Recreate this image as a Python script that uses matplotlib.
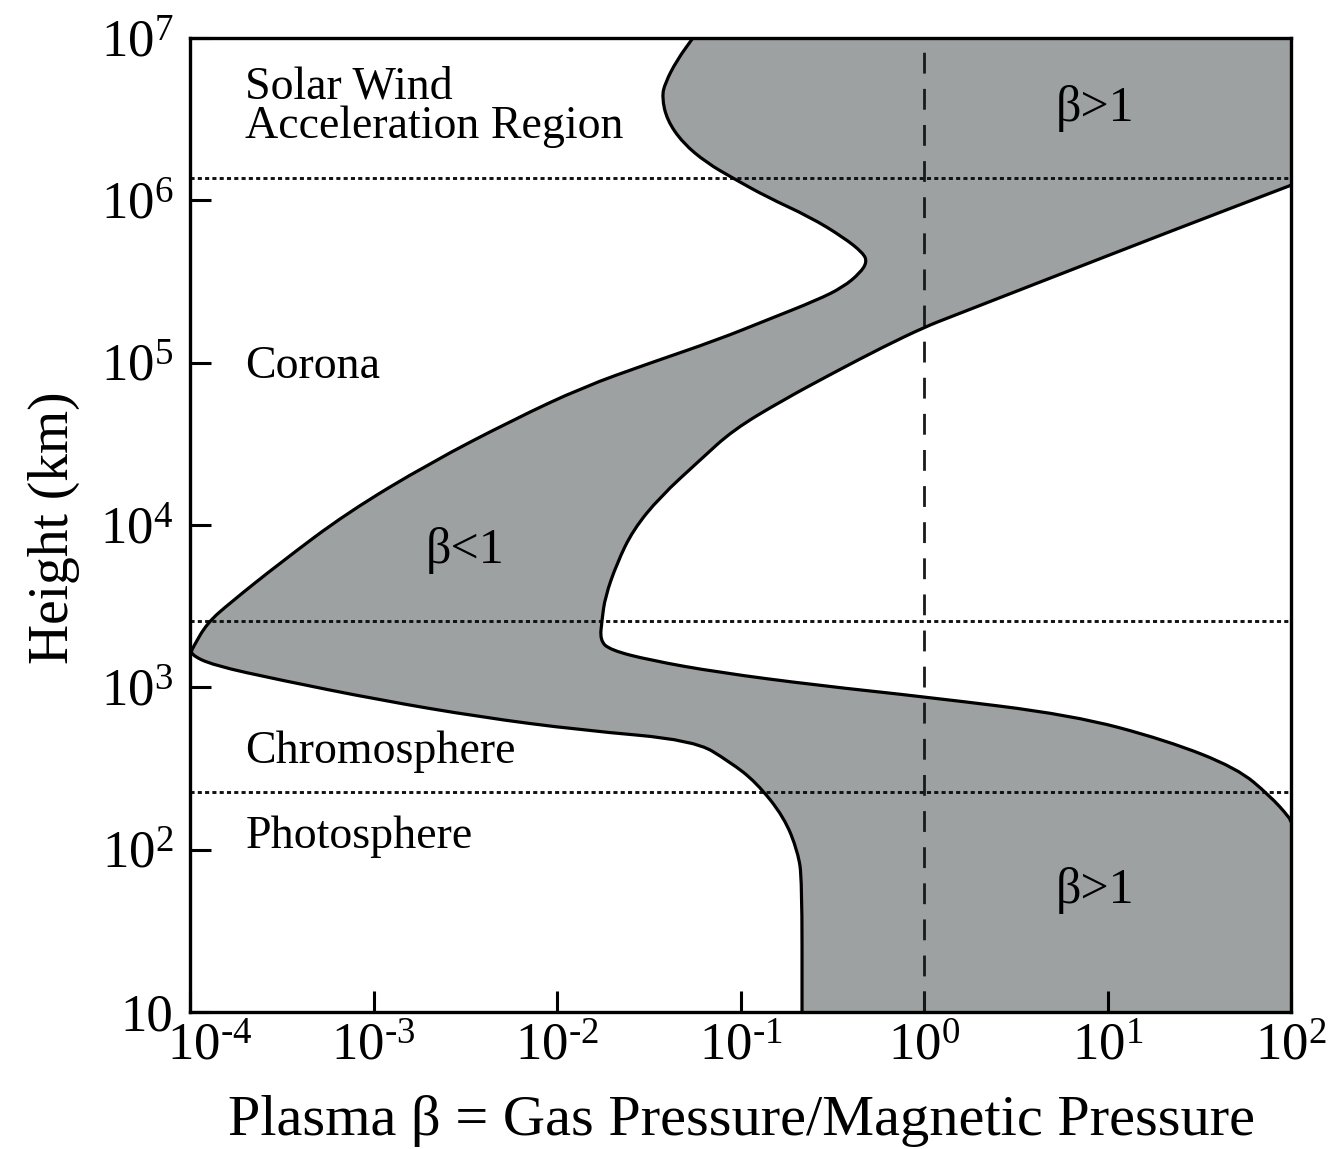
import matplotlib
matplotlib.use("Agg")
import numpy as np
import matplotlib.pyplot as plt
from matplotlib.path import Path
from matplotlib.patches import PathPatch
from matplotlib.transforms import ScaledTranslation

plt.rcParams['font.family'] = ['Liberation Serif', 'DejaVu Serif']
plt.rcParams['mathtext.fontset'] = 'custom'
plt.rcParams['mathtext.rm'] = 'Liberation Serif'
plt.rcParams['mathtext.it'] = 'Liberation Serif:italic'

# left boundary of the beta<1 band (beta, height km), top to bottom
left_beta = [0.055, 0.045, 0.0388, 0.0373, 0.0397, 0.0486, 0.0656, 0.091, 0.139,
             0.239, 0.362, 0.466, 0.489, 0.448, 0.362, 0.261, 0.139, 0.0745,
             0.0321, 0.01387, 0.00575, 0.00203, 7.18e-4, 3.09e-4, 1.65e-4,
             1.24e-4, 1.04e-4, 1.0e-4, 1.33e-4, 3.09e-4, 1.08e-3, 3.80e-3,
             0.01333, 0.0558, 0.0877, 0.1213, 0.1726, 0.2056, 0.2163, 0.2163]
left_h = [1e7, 7.3e6, 5.28e6, 4.33e6, 3.13e6, 2.25e6, 1.70e6, 1.37e6, 1.05e6,
          7.9e5, 5.94e5, 4.74e5, 4.17e5, 3.57e5, 2.92e5, 2.43e5, 1.83e5, 1.38e5,
          9.95e4, 7.08e4, 4.44e4, 2.41e4, 1.19e4, 5.83e3, 3.31e3,
          2.49e3, 1.77e3, 1.60e3, 1.37e3, 1.11e3, 836, 657,
          546, 473, 347, 261, 159, 96.8, 65, 10]

# right boundary, top to bottom
right_beta = [100, 20.8, 4.87, 1.387, 1.01, 0.598, 0.319, 0.1706, 0.091, 0.0601,
              0.0364, 0.02594, 0.02123, 0.01828, 0.01758, 0.01714, 0.01946,
              0.0321, 0.0745, 0.261, 1.04, 6.41, 20.8, 50.8, 76.9, 97.5, 100]
right_h = [1.24e6, 6.29e5, 3.32e5, 1.91e5, 1.66e5, 1.25e5, 8.63e4, 5.89e4, 3.85e4,
           2.51e4, 1.49e4, 9.31e3, 5.83e3, 3.60e3, 2.60e3, 1.95e3, 1.70e3,
           1.47e3, 1.24e3, 1.03e3, 871, 675, 473, 318, 214, 159, 148]

layer_heights = [1.37e6, 2.56e3, 226]

xticks = [1e-4, 1e-3, 1e-2, 1e-1, 1e0, 1e1, 1e2]
xlabels = ['$\\mathregular{10^{\u20104}}$', '$\\mathregular{10^{\u20103}}$',
           '$\\mathregular{10^{\u20102}}$', '$\\mathregular{10^{\u20101}}$',
           r'$\mathregular{10^{0}}$', r'$\mathregular{10^{1}}$', r'$\mathregular{10^{2}}$']
yticks = [10, 1e2, 1e3, 1e4, 1e5, 1e6, 1e7]
ylabels = ['10', r'$\mathregular{10^{2}}$', r'$\mathregular{10^{3}}$', r'$\mathregular{10^{4}}$',
           r'$\mathregular{10^{5}}$', r'$\mathregular{10^{6}}$', r'$\mathregular{10^{7}}$']


def smooth_verts(xs, ys):
    # quadratic bezier through midpoints (geometric, so it looks right on log axes)
    xs = np.asarray(xs, float)
    ys = np.asarray(ys, float)
    mx = np.sqrt(xs[:-1] * xs[1:])
    my = np.sqrt(ys[:-1] * ys[1:])
    verts = [(xs[0], ys[0]), (mx[0], my[0])]
    codes = [Path.MOVETO, Path.LINETO]
    for i in range(1, len(xs) - 1):
        verts += [(xs[i], ys[i]), (mx[i], my[i])]
        codes += [Path.CURVE3, Path.CURVE3]
    verts.append((xs[-1], ys[-1]))
    codes.append(Path.LINETO)
    return verts, codes


fig = plt.figure(figsize=(13.39, 11.49), dpi=100)
ax = fig.add_axes([0.1419, 0.1192, 0.8223, 0.8477])
ax.set_xscale('log')
ax.set_yscale('log')
xmin, xmax, ymin, ymax = 1e-4, 1e2, 10, 1e7
ax.set_xlim(xmin, xmax)
ax.set_ylim(ymin, ymax)

gray = '#9da1a2'
lv, lc = smooth_verts(left_beta, left_h)
rv, rc = smooth_verts(right_beta[::-1], right_h[::-1])

# shaded region
fv = lv + [(xmax, ymin)] + rv + [(xmax, ymax), (0, 0)]
fc = lc + [Path.LINETO] + [Path.LINETO] + rc[1:] + [Path.LINETO, Path.CLOSEPOLY]
ax.add_patch(PathPatch(Path(fv, fc), facecolor=gray, edgecolor='none', zorder=1))
ax.add_patch(PathPatch(Path(lv, lc), facecolor='none', edgecolor='black', lw=2.3, zorder=3))
ax.add_patch(PathPatch(Path(rv, rc), facecolor='none', edgecolor='black', lw=2.3, zorder=3))

for h in layer_heights:
    ax.axhline(h, color='#111111', lw=2.1, ls=(0, (1.4, 1.1)), zorder=2)
ax.axvline(1.0, color='#1a1a1a', lw=2.0, ls=(0, (7.5, 5.5)), zorder=2)

fs_lab = 33
ax.text(2.0e-4, 4.99e6, 'Solar Wind', fontsize=fs_lab, va='center', ha='left')
ax.text(2.0e-4, 2.83e6, 'Acceleration Region', fontsize=fs_lab, va='center', ha='left')
ax.text(2.0e-4, 9.5e4, 'Corona', fontsize=fs_lab, va='center', ha='left')
ax.text(2.0e-4, 400, 'Chromosphere', fontsize=fs_lab, va='center', ha='left')
ax.text(2.0e-4, 121, 'Photosphere', fontsize=fs_lab, va='center', ha='left')
ax.text(3.16e-3, 7.0e3, 'β<1', fontsize=36, va='center', ha='center')
ax.text(8.55, 3.7e6, 'β>1', fontsize=36, va='center', ha='center')
ax.text(8.55, 56, 'β>1', fontsize=36, va='center', ha='center')

ax.set_xticks(xticks)
ax.set_xticklabels(xlabels)
ax.set_yticks(yticks)
ax.set_yticklabels(ylabels)
ax.minorticks_off()
ax.tick_params(direction='in', length=15, width=2.2, labelsize=38,
               top=False, right=False)
ax.tick_params(axis='x', pad=8)
ax.tick_params(axis='y', pad=12)
# first x label sits a little to the right, clear of the "10" on the y axis
first = ax.xaxis.get_major_ticks()[0].label1
first.set_transform(first.get_transform() + ScaledTranslation(20 / 100, 0, fig.dpi_scale_trans))
for s in ax.spines.values():
    s.set_linewidth(2.4)

ax.set_xlabel('Plasma β = Gas Pressure/Magnetic Pressure', fontsize=42)
ax.xaxis.set_label_coords(0.5005, -0.085)
ax.set_ylabel('Height (km)', fontsize=40)
ax.yaxis.set_label_coords(-0.10, 0.497)

fig.savefig('out.png', dpi=100)
